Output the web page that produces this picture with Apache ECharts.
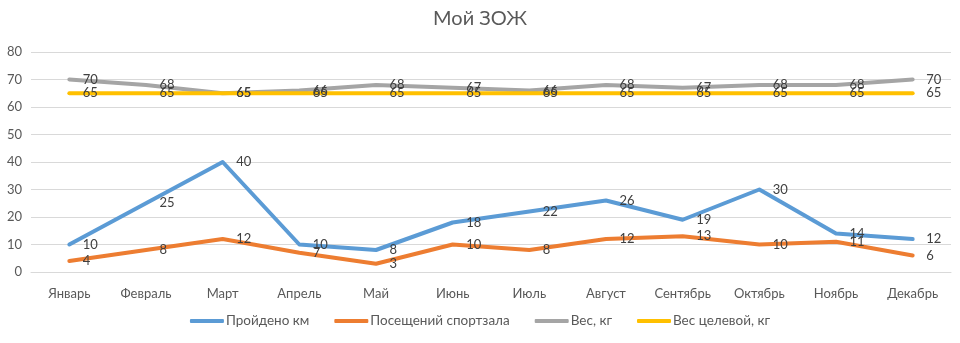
<!DOCTYPE html>
<html><head><meta charset="utf-8">
<script src="https://cdn.jsdelivr.net/npm/echarts@6/dist/echarts.min.js"></script>
<style>html,body{margin:0;padding:0;background:#fff}#c{width:960px;height:343px}</style>
</head><body><div id="c"></div>
<script>
const categories = ['Январь','Февраль','Март','Апрель','Май','Июнь','Июль','Август','Сентябрь','Октябрь','Ноябрь','Декабрь'];
const km = [10,25,40,10,8,18,22,26,19,30,14,12];
const gym = [4,8,12,7,3,10,8,12,13,10,11,6];
const weight = [70,68,65,66,68,67,66,68,67,68,68,70];
const target = [65,65,65,65,65,65,65,65,65,65,65,65];
const seriesNames = ['Пройдено км','Посещений спортзала','Вес, кг','Вес целевой, кг'];
const colors = ['#5B9BD5','#ED7D31','#A5A5A5','#FFC000'];
const font = 'Lato, "Open Sans", sans-serif';

const chart = echarts.init(document.getElementById('c'));
function mk(name, data, color){
  return {
    name, type:'line', data, symbol:'circle', symbolSize:1, showSymbol:true, color,
    itemStyle:{color:color, opacity:0},
    lineStyle:{width:4, color, cap:'round', join:'round'},
    label:{show:true, position:'right', distance:13, color:'#404040', fontSize:13, fontFamily:font, opacity:1},
    labelLayout:{hideOverlap:false},
    emphasis:{disabled:true},
    animation:false
  };
}
chart.setOption({
  animation:false,
  title:{text:'Мой ЗОЖ', left:'center', top:4, textStyle:{fontSize:20, fontWeight:'normal', color:'#595959', fontFamily:font}},
  grid:{left:31, right:9, top:52, bottom:71, containLabel:false},
  legend:{bottom:10, left:'center', icon:'roundRect', itemWidth:34, itemHeight:4, itemGap:25,
    textStyle:{color:'#595959', fontSize:13.5, fontFamily:font, padding:[0,0,0,-3]},
    itemStyle:{opacity:1},
    data:seriesNames},
  xAxis:{type:'category', data:categories, boundaryGap:true,
    axisLine:{show:true, lineStyle:{color:'#D9D9D9'}}, axisTick:{show:false},
    axisLabel:{color:'#595959', fontSize:13, fontFamily:font, margin:15}},
  yAxis:{type:'value', min:0, max:80, interval:10,
    axisLine:{show:false}, axisTick:{show:false},
    splitLine:{lineStyle:{color:'#D9D9D9'}},
    axisLabel:{color:'#595959', fontSize:13, fontFamily:font, margin:9}},
  series:[mk(seriesNames[0],km,colors[0]), mk(seriesNames[1],gym,colors[1]), mk(seriesNames[2],weight,colors[2]), mk(seriesNames[3],target,colors[3])]
});
</script></body></html>
